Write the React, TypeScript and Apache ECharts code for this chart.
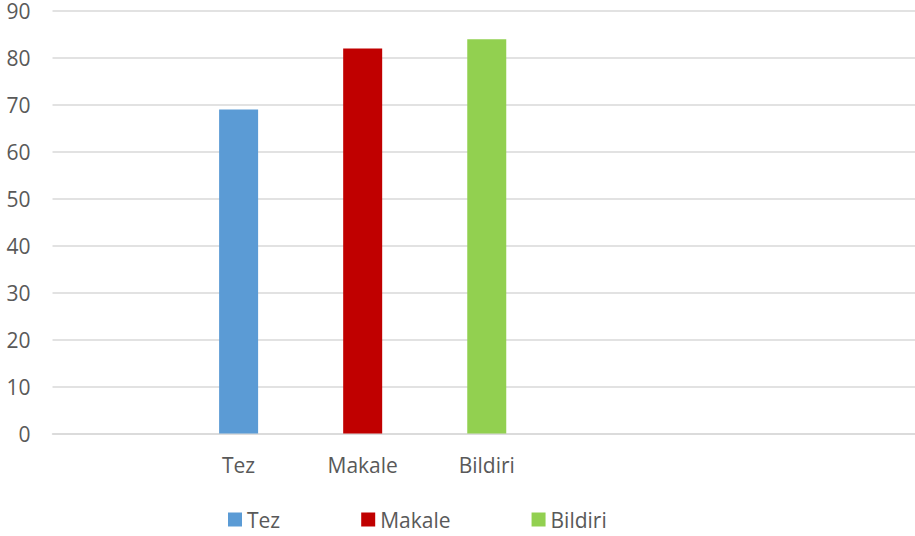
import React, { useEffect, useRef } from "react";
import * as echarts from "echarts";

// Publication counts by type
const categories = ["Tez", "Makale", "Bildiri"];
const values = [69, 82, 84];
const colors = ["#5B9BD5", "#C00000", "#92D050"];
// Category slots on the x axis: one empty slot before, three after
const leadingSlots = 1;
const trailingSlots = 3;
const yTicks = { min: 0, max: 90, interval: 10 };

const FONT = "'Open Sans', 'Noto Sans', sans-serif";
const TEXT_COLOR = "#595959";
const FONT_SIZE = 21;

export default function App() {
  const ref = useRef<HTMLDivElement>(null);

  useEffect(() => {
    document.body.style.margin = "0";
    document.body.style.overflow = "hidden";
    if (!ref.current) return;
    const chart = echarts.init(ref.current, undefined, { renderer: "svg" });

    const slots: string[] = [
      ...Array(leadingSlots).fill(""),
      ...categories,
      ...Array(trailingSlots).fill(""),
    ];

    const series = categories.map((name, i) => {
      const data = slots.map((_, j) => (j === leadingSlots + i ? values[i] : "-"));
      return {
        name,
        type: "bar" as const,
        stack: "all",
        barWidth: 39,
        data,
        itemStyle: { color: colors[i] },
      };
    });

    chart.setOption({
      animation: false,
      textStyle: { fontFamily: FONT },
      grid: { left: 52.5, right: 0, top: 11, bottom: 102.5, containLabel: false },
      legend: {
        data: categories,
        left: 228,
        top: 509,
        padding: 0,
        itemWidth: 14,
        itemHeight: 14,
        itemGap: 81,
        icon: "rect",
        textStyle: { fontFamily: FONT, fontSize: FONT_SIZE, color: TEXT_COLOR },
      },
      xAxis: {
        type: "category",
        data: slots,
        axisLine: { lineStyle: { color: "#D9D9D9", width: 1.5 } },
        axisTick: { show: false },
        axisLabel: {
          interval: 0,
          margin: 21,
          fontFamily: FONT,
          fontSize: FONT_SIZE,
          color: TEXT_COLOR,
        },
      },
      yAxis: {
        type: "value",
        min: yTicks.min,
        max: yTicks.max,
        interval: yTicks.interval,
        axisLine: { show: false },
        axisTick: { show: false },
        splitLine: { lineStyle: { color: "#D9D9D9", width: 1.5 } },
        axisLabel: {
          margin: 22,
          fontFamily: FONT,
          fontSize: FONT_SIZE,
          lineHeight: 18,
          color: TEXT_COLOR,
        },
      },
      series,
    });

    return () => chart.dispose();
  }, []);

  return <div ref={ref} style={{ width: 920.5, height: 536 }} />;
}
